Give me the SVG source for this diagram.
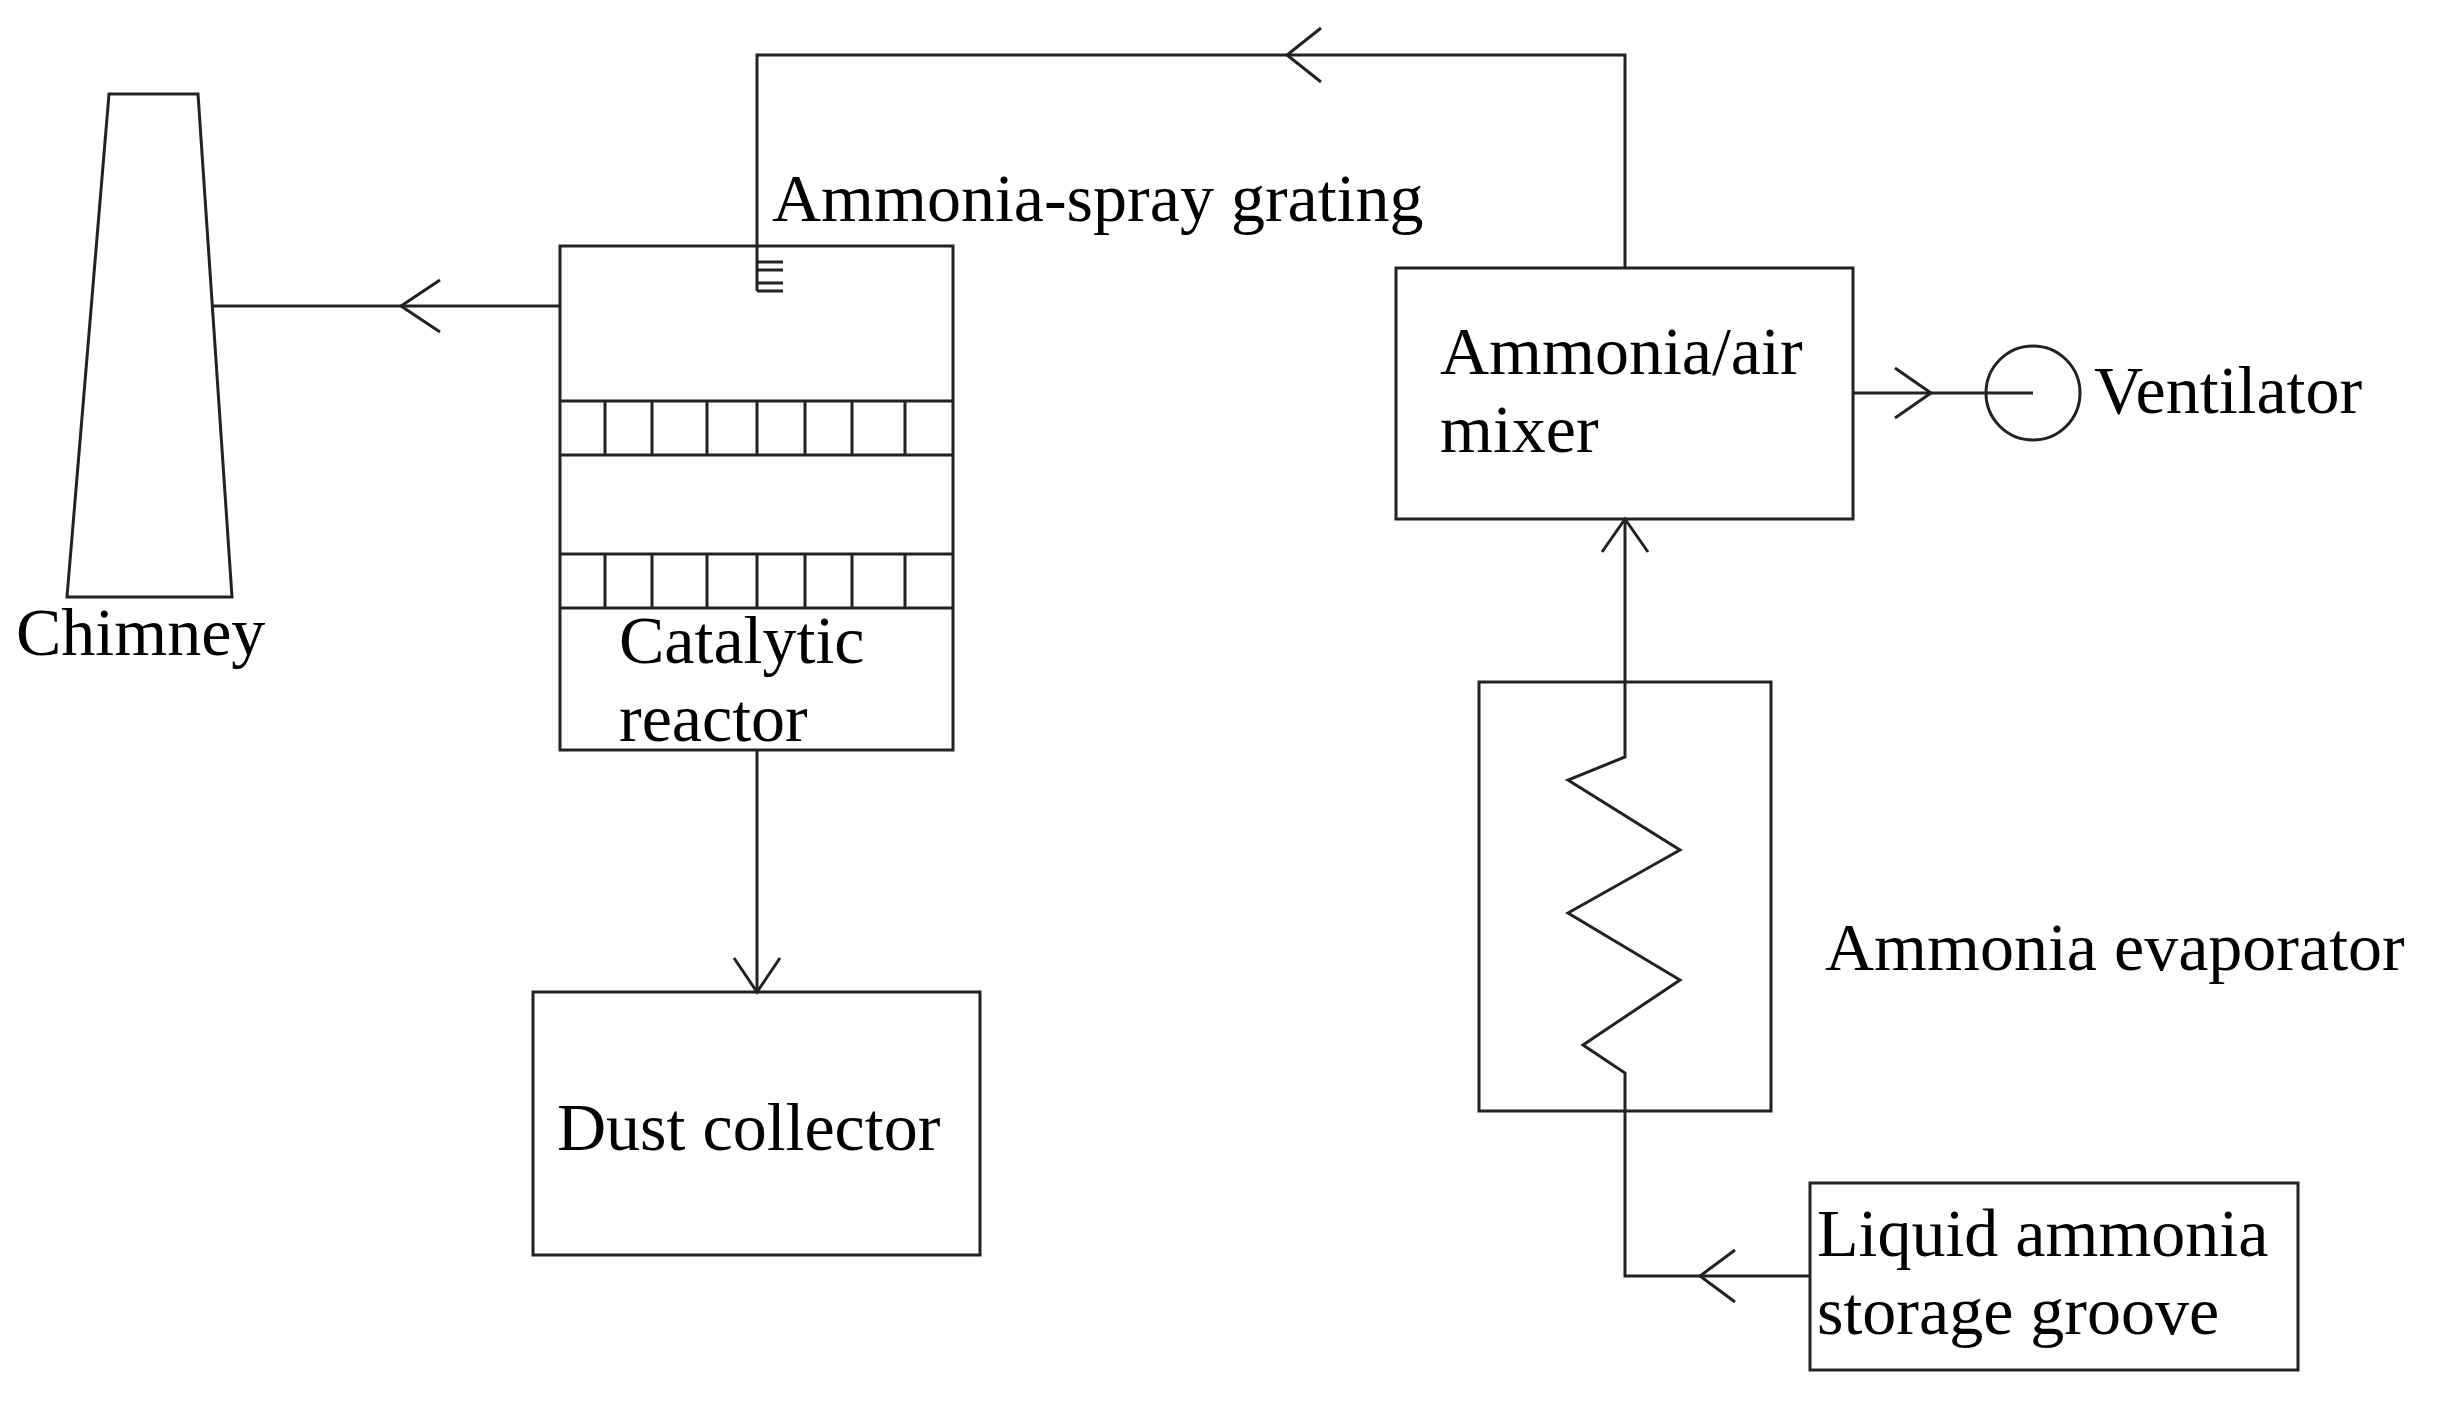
<svg xmlns="http://www.w3.org/2000/svg" width="2438" height="1403" viewBox="0 0 2438 1403">
<style>
.s{fill:none;stroke:#222;stroke-width:3}
.t{font-family:"Liberation Serif",serif;font-size:68px;fill:#000}
</style>
<rect width="2438" height="1403" fill="#fff"/>
<g id="chimney"><polygon class="s" points="109,94 198,94 232,597 67,597"/><text class="t" x="16" y="655">Chimney</text></g>
<g id="reactor">
<rect class="s" x="560" y="246" width="393" height="504"/>
<path class="s" d="M560,401H953M560,455H953M560,554H953M560,608H953M605,401V455M652,401V455M707,401V455M757,401V455M805,401V455M852,401V455M905,401V455M605,554V608M652,554V608M707,554V608M757,554V608M805,554V608M852,554V608M905,554V608"/>
<path class="s" d="M757,262H783M757,270H783M757,283H783M757,291H783"/>
<text class="t" x="619" y="663">Catalytic</text><text class="t" x="619" y="741">reactor</text>
</g>
<text class="t" x="772" y="221">Ammonia-spray grating</text>
<g id="dust"><rect class="s" x="533" y="992" width="447" height="263"/><text class="t" x="557" y="1150">Dust collector</text></g>
<g id="mixer"><rect class="s" x="1396" y="268" width="457" height="251"/><text class="t" x="1440" y="374">Ammonia/air</text><text class="t" x="1440" y="452">mixer</text></g>
<g id="ventilator"><circle class="s" cx="2033" cy="393" r="47"/><text class="t" x="2094" y="413">Ventilator</text></g>
<g id="evaporator"><rect class="s" x="1479" y="682" width="292" height="429"/><text class="t" x="1825" y="970">Ammonia evaporator</text></g>
<g id="storage"><rect class="s" x="1810" y="1183" width="488" height="187"/><text class="t" x="1817" y="1256">Liquid ammonia</text><text class="t" x="1817" y="1334">storage groove</text></g>
<g id="connectors" class="s">
<path d="M1625,268V55H757V291"/><path d="M1321,28L1287,55L1321,82"/>
<path d="M560,306H212"/><path d="M440,280L401,306L440,332"/>
<path d="M757,750V992"/><path d="M734,958L757,992L780,958"/>
<path d="M1853,393H2033"/><path d="M1895,368L1931,393L1895,418"/>
<path d="M1625,682V757L1568,780L1680,850L1568,913L1680,980L1583,1045L1625,1073V1276H1810"/><path d="M1735,1250L1700,1276L1735,1302"/>
<path d="M1625,682V519"/><path d="M1602,552L1625,519L1648,552"/>
</g>
</svg>
